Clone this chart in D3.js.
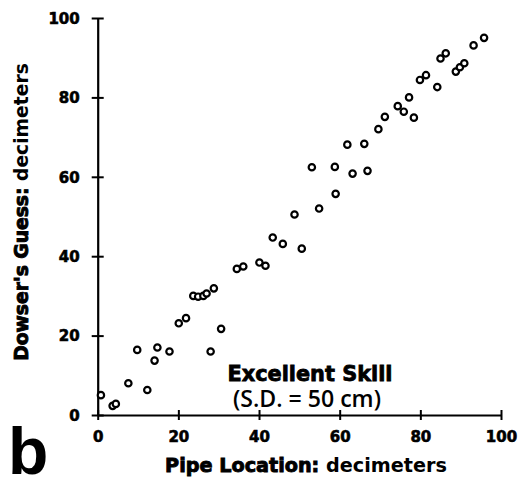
<!DOCTYPE html>
<html><head><meta charset="utf-8">
<script src="https://cdn.jsdelivr.net/npm/d3@7/dist/d3.min.js"></script>
<style>body{margin:0;background:#fff}</style>
</head><body>
<svg id="c" width="525" height="490"></svg>
<script>
const pipeX = [0.8,3.7,4.5,7.6,9.8,12.3,14.1,14.8,17.8,20.1,21.9,23.7,24.9,26.2,27.0,28.8,28.0,30.6,34.5,36.1,40.1,41.6,43.4,45.9,50.6,48.8,54.9,59.0,53.1,58.8,63.2,66.9,61.9,66.1,69.6,71.2,74.4,75.9,77.2,78.4,79.9,81.4,84.2,85.0,86.3,88.8,89.8,90.9,93.2,95.8];
const guessY = [5.0,2.3,2.8,8.0,16.4,6.3,13.7,17.0,16.0,23.1,24.4,30.0,29.8,30.0,30.6,31.9,16.0,21.7,36.8,37.4,38.4,37.6,44.7,43.1,41.9,50.5,52.0,55.7,62.4,62.5,60.8,61.5,68.1,68.3,72.0,75.1,77.8,76.4,80.0,74.9,84.4,85.6,82.6,89.8,91.1,86.5,87.6,88.6,93.1,95.0];
const xTicks = [0,20,40,60,80,100];
const yTicks = [0,20,40,60,80,100];

const svg = d3.select("#c");
const heavy = "'DejaVu Sans', sans-serif";
const x = d3.scaleLinear().domain([0,100]).range([97.7,501]);
const y = d3.scaleLinear().domain([0,100]).range([415,18]);

const xa = svg.append("g").attr("transform","translate(0,415)")
  .call(d3.axisBottom(x).tickValues(xTicks).tickSize(0).tickPadding(16));
const ya = svg.append("g").attr("transform","translate(97.7,0)")
  .call(d3.axisLeft(y).tickValues(yTicks).tickSize(0).tickPadding(18));
[xa,ya].forEach(a=>{
  a.select(".domain").attr("stroke","#000").attr("stroke-width",2.2);
  a.selectAll("text").attr("font-family",heavy).attr("font-weight",700).attr("font-size",15)
    .attr("fill","#000").attr("stroke","#000").attr("stroke-width",0.6);
});
xa.selectAll(".tick").append("line").attr("y1",-5).attr("y2",5).attr("stroke","#000").attr("stroke-width",2);
ya.selectAll(".tick").append("line").attr("x1",-6).attr("x2",6).attr("stroke","#000").attr("stroke-width",2);
ya.selectAll(".tick text").attr("dy","0.35em");

svg.append("g").selectAll("circle").data(pipeX).join("circle")
  .attr("cx",(d)=>x(d)).attr("cy",(d,i)=>y(guessY[i])).attr("r",3.2)
  .attr("fill","#fff").attr("stroke","#000").attr("stroke-width",2.2);

function fit(t, w){ const L=t.node().getComputedTextLength(); const fs=+t.attr("font-size"); t.attr("font-size", fs*w/L); }

// x title
const xt = svg.append("text").attr("x",306).attr("y",472).attr("text-anchor","middle")
  .attr("font-family",heavy).attr("font-size",17).attr("fill","#000");
xt.append("tspan").attr("font-weight",700).attr("stroke","#000").attr("stroke-width",0.9).text("Pipe Location:");
xt.append("tspan").attr("font-weight",700).text(" decimeters");
fit(xt, 282);

const yt = svg.append("text").attr("transform","translate(28,212) rotate(-90)").attr("text-anchor","middle")
  .attr("font-family",heavy).attr("font-size",17).attr("fill","#000");
yt.append("tspan").attr("font-weight",700).attr("stroke","#000").attr("stroke-width",0.9).text("Dowser's Guess:");
yt.append("tspan").attr("font-weight",700).text(" decimeters");
fit(yt, 298);

const e1 = svg.append("text").attr("x",310).attr("y",381).attr("text-anchor","middle")
  .attr("font-family",heavy).attr("font-weight",700).attr("font-size",18)
  .attr("stroke","#000").attr("stroke-width",0.8).text("Excellent Skill");
fit(e1, 165);
const e2 = svg.append("text").attr("x",307).attr("y",407).attr("text-anchor","middle")
  .attr("font-family","'Open Sans', sans-serif").attr("font-weight",600).attr("font-size",16).text("(S.D. = 50 cm)");
fit(e2, 148);

svg.append("text").attr("x",8).attr("y",474)
  .attr("font-family","'Liberation Sans', Arial, sans-serif").attr("font-weight",700).attr("font-size",66).text("b");
</script>
</body></html>
